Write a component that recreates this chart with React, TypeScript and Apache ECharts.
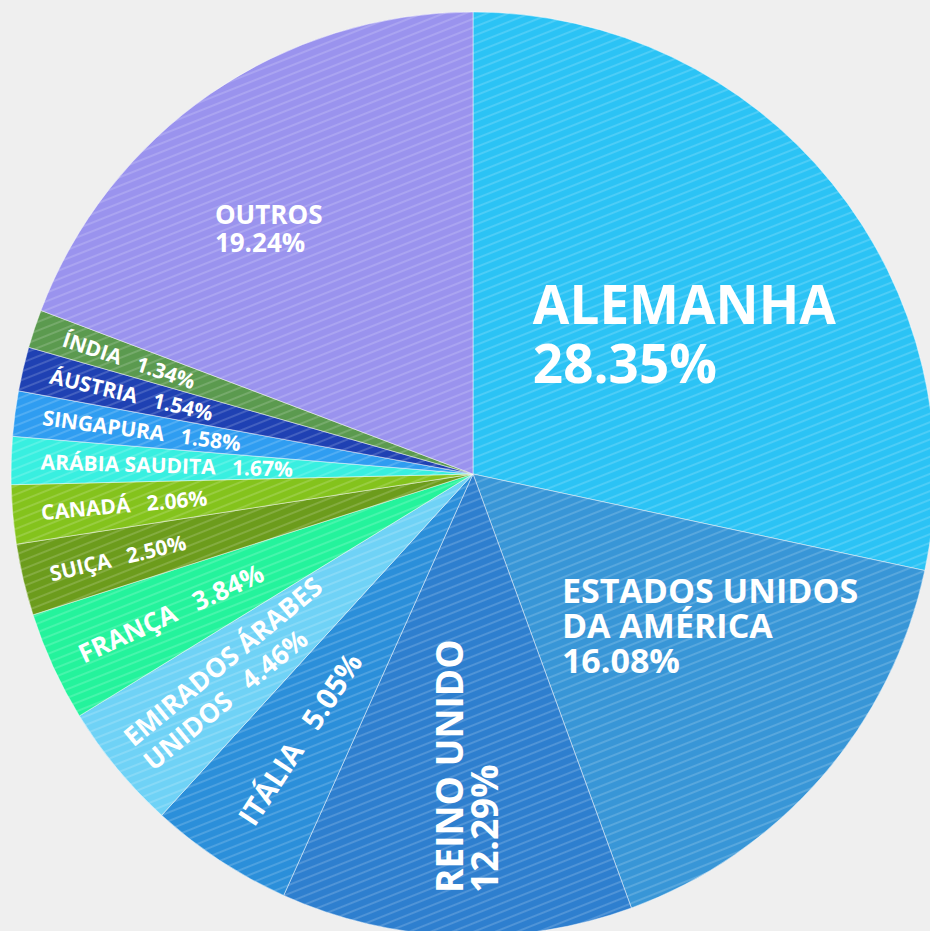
import React, { useEffect, useRef } from 'react';
import * as echarts from 'echarts';

// ---- data ----
const countries = [
  'ALEMANHA',
  'ESTADOS UNIDOS DA AMÉRICA',
  'REINO UNIDO',
  'ITÁLIA',
  'EMIRADOS ÁRABES UNIDOS',
  'FRANÇA',
  'SUIÇA',
  'CANADÁ',
  'ARÁBIA SAUDITA',
  'SINGAPURA',
  'ÁUSTRIA',
  'ÍNDIA',
  'OUTROS',
];
const shares = [28.35, 16.08, 12.29, 5.05, 4.46, 3.84, 2.5, 2.06, 1.67, 1.58, 1.54, 1.34, 19.24];

// ---- styles ----
const colors = [
  '#2bc3f5',
  '#3896d7',
  '#2e7fcf',
  '#2b8fda',
  '#6fd2f6',
  '#24f39c',
  '#6c9c1c',
  '#84c31c',
  '#38efe0',
  '#2f9df1',
  '#1f41b3',
  '#5b9a4f',
  '#9a93ee',
];

const CX = 473;
const CY = 474;
const R = 462;

type LS = {
  size: number;
  lh: number;
  sep: string;
  wrap: number;
  rot: number | 'radial';
  align: 'left' | 'center';
  dist: number;
  dAng: number;
};
const labelStyles: LS[] = [
  { size: 53, lh: 59, sep: '\n', wrap: 0, rot: 0, align: 'left', dist: 0.331, dAng: 27.98 },
  { size: 34, lh: 35, sep: '\n', wrap: 2, rot: 0, align: 'left', dist: 0.379, dAng: -18.48 },
  { size: 37, lh: 35, sep: '\n', wrap: 0, rot: 90, align: 'left', dist: 0.907, dAng: 1.11 },
  { size: 29, lh: 32, sep: '   ', wrap: 0, rot: 'radial', align: 'center', dist: 0.685, dAng: 0 },
  { size: 26.5, lh: 31, sep: '   ', wrap: 2, rot: 'radial', align: 'left', dist: 0.944, dAng: 0 },
  { size: 26, lh: 30, sep: '   ', wrap: 0, rot: 'radial', align: 'center', dist: 0.72, dAng: 0 },
  { size: 21, lh: 25, sep: '   ', wrap: 0, rot: 'radial', align: 'center', dist: 0.79, dAng: 0 },
  { size: 21, lh: 25, sep: '   ', wrap: 0, rot: 'radial', align: 'center', dist: 0.758, dAng: 0 },
  { size: 21, lh: 24, sep: '   ', wrap: 0, rot: 'radial', align: 'center', dist: 0.663, dAng: 0 },
  { size: 21, lh: 24, sep: '   ', wrap: 0, rot: 'radial', align: 'center', dist: 0.723, dAng: 0 },
  { size: 21, lh: 24, sep: '   ', wrap: 0, rot: 'radial', align: 'center', dist: 0.759, dAng: 0 },
  { size: 21, lh: 24, sep: '   ', wrap: 0, rot: 'radial', align: 'center', dist: 0.784, dAng: 0 },
  { size: 26, lh: 28, sep: '\n', wrap: 0, rot: 0, align: 'left', dist: 0.772, dAng: 11.73 },
];

function labelText(i: number): string {
  const words = countries[i].split(' ');
  const w = labelStyles[i].wrap;
  const name = w > 0 ? words.slice(0, w).join(' ') + '\n' + words.slice(w).join(' ') : countries[i];
  return name + labelStyles[i].sep + shares[i].toFixed(2) + '%';
}

export default function App() {
  const ref = useRef<HTMLDivElement>(null);
  useEffect(() => {
    if (!ref.current) return;
    const chart = echarts.init(ref.current, undefined, { renderer: 'svg' });
    const total = shares.reduce((a, b) => a + b, 0);
    const midAngles: number[] = [];
    let acc = 0;
    shares.forEach((v) => {
      midAngles.push(90 - ((acc + v / 2) / total) * 360);
      acc += v;
    });
    const decal = {
      symbol: 'rect',
      symbolSize: 1,
      dashArrayX: [1, 0],
      dashArrayY: [2, 6],
      rotation: -0.38,
      color: 'rgba(255,255,255,0.16)',
    };
    chart.setOption({
      animation: false,
      backgroundColor: '#efefef',
      series: [
        {
          type: 'pie',
          center: [CX, CY],
          radius: [0, R],
          startAngle: 90,
          clockwise: true,
          avoidLabelOverlap: false,
          silent: true,
          itemStyle: { borderColor: 'rgba(255,255,255,0.25)', borderWidth: 1 },
          labelLine: { show: false },
          data: countries.map((name, i) => ({
            name,
            value: shares[i],
            itemStyle: { color: colors[i], decal },
            label: {
              show: true,
              position: 'inside',
              formatter: () => labelText(i),
              rotate: labelStyles[i].rot,
              color: '#ffffff',
              fontFamily: 'Open Sans',
              fontWeight: 'bold',
              fontSize: labelStyles[i].size,
              lineHeight: labelStyles[i].lh,
            },
          })),
          labelLayout: (params: any) => {
            const i = params.dataIndex;
            const st = labelStyles[i];
            const a = ((midAngles[i] + st.dAng) * Math.PI) / 180;
            const r = st.dist * R;
            return {
              x: CX + r * Math.cos(a),
              y: CY - r * Math.sin(a),
              align: st.align,
              verticalAlign: 'middle',
            };
          },
        },
      ],
    });
    return () => chart.dispose();
  }, []);
  return (
    <div
      ref={ref}
      style={{ position: 'fixed', left: 0, top: 0, width: 930, height: 931 }}
    />
  );
}
